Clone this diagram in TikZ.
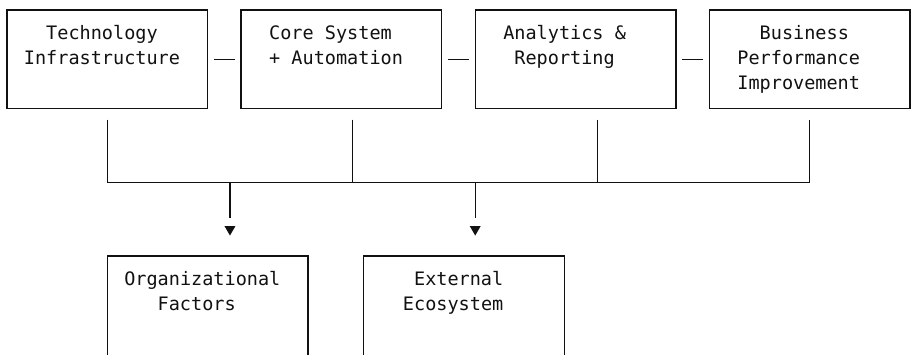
\documentclass[tikz,border=0pt]{standalone}
\usepackage{fontspec}
\usetikzlibrary{shapes.geometric}
\newfontfamily\asciifont{DejaVu Sans Mono}
\definecolor{ink}{HTML}{111111}
\begin{document}
\begin{tikzpicture}[x=1pt,y=-1pt,
  box/.style={draw=ink, line width=1.3pt, minimum width=200.66pt, minimum height=98.4pt, inner sep=0pt},
  wire/.style={draw=ink, line width=1.3pt},
  lbl/.style={anchor=base west, inner sep=0pt, text=ink, font=\asciifont\fontsize{18.52pt}{24.6pt}\selectfont},
  tip/.style={regular polygon, regular polygon sides=3, shape border rotate=180, fill=ink, draw=none, minimum size=12.7pt, inner sep=0pt}]
\useasboundingbox (0,0) rectangle (911,354);
\clip (0,0) rectangle (911,354);

% boxes on a character grid (cell 11.148pt wide, rows 24.6pt high)
\node[box] (b1) at (107.34,59.2) {};
\node[box] (b2) at (341.45,59.2) {};
\node[box] (b3) at (575.55,59.2) {};
\node[box] (b4) at (809.67,59.2) {};
% the lower boxes run past the bottom edge
\node[box, minimum height=104pt] (b5) at (207.67,308) {};
\node[box, minimum height=104pt] (b6) at (464.07,308) {};

% labels
\node[lbl] (t1a) at (46.02,39.9) {Technology};
\node[lbl] (t1b) at (23.73,64.5) {Infrastructure};
\node[lbl] (t2a) at (268.98,39.9) {Core System};
\node[lbl] (t2b) at (268.98,64.5) {+ Automation};
\node[lbl] (t3a) at (503.09,39.9) {Analytics \&};
\node[lbl] (t3b) at (514.24,64.5) {Reporting};
\node[lbl] (t4a) at (759.5,39.9) {Business};
\node[lbl] (t4b) at (737.2,64.5) {Performance};
\node[lbl] (t4c) at (737.2,89.1) {Improvement};
\node[lbl] (t5a) at (124.06,285.9) {Organizational};
\node[lbl] (t5b) at (157.5,310.5) {Factors};
\node[lbl] (t6a) at (413.9,285.9) {External};
\node[lbl] (t6b) at (402.76,310.5) {Ecosystem};

% short links between neighbouring boxes
\foreach \a/\b in {b1/b2,b2/b3,b3/b4}
  \draw[wire, shorten <=5.57pt, shorten >=5.57pt] (\a) -- (\b);

% collecting bus
\coordinate (bus) at (458.5,182.2);
\draw[wire, shorten <=10.6pt, shorten >=10.6pt] (b1.south) |- (bus) -| (b4.south);
\draw[wire, shorten <=10.6pt] ([xshift=11.15pt]b2.south) -- ([xshift=11.15pt]b2.south |- bus);
\draw[wire, shorten <=10.6pt] ([xshift=22.27pt]b3.south) -- ([xshift=22.27pt]b3.south |- bus);

% arrows down to the lower boxes
\node[tip] (ta) at (229.97,229.2) {};
\node[tip] (tb) at (475.22,229.2) {};
\draw[wire, shorten >=8pt] (ta |- bus) -- (ta.north);
\draw[wire, shorten >=8pt] (tb |- bus) -- (tb.north);
\end{tikzpicture}
\end{document}
